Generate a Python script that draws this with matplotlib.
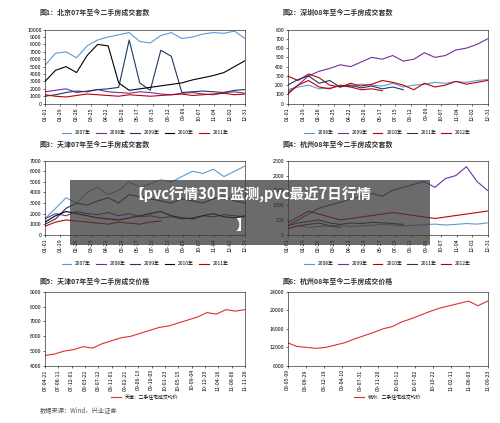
import matplotlib
matplotlib.use("Agg")
import matplotlib.pyplot as plt
plt.rcParams['font.family'] = ['Noto Sans CJK SC', 'DejaVu Sans']

titles = ["图1：北京07年至今二手房成交套数", "图2：深圳08年至今二手房成交套数",
          "图3：天津07年至今二手房成交套数", "图4：杭州08年至今二手房成交套数",
          "图5：天津07年至今二手房成交价格", "图6：杭州08年至今二手房成交价格"]
week_labels = ["01-01","01-29","02-26","03-25","04-22","05-20","06-17","07-15","08-12","09-09","10-07","11-04","12-02","12-31"]
colors = ["#5b9bd5", "#7030a0", "#1f3864", "#000000", "#c00000"]

bj_2007 = [5200,6800,7000,6200,7800,8600,9000,9300,9600,8400,8200,9200,9600,8800,9000,9400,9600,9500,9800,8800]
bj_2008 = [1600,1800,2000,1500,1700,1900,1600,1500,1400,1600,1500,1300,1200,1400,1500,1300,1200,1500,1600,1400]
bj_2009 = [1000,1200,1500,1700,1600,1900,2000,2200,8600,2800,1800,7200,6400,1500,1600,1700,1600,1500,1800,1900]
bj_2010 = [3000,4500,5000,4200,6500,8000,7800,2800,1800,2000,2200,2400,2600,2800,3200,3500,3800,4200,5000,5800]
bj_2011 = [1200,1000,900,1100,1300,1200,1100,1000,1200,1100,1000,1100,1200,1300,1100,1200,1300,1400,1200,1300]

sz_2008 = [150,180,200,160,170,190,180,210,200,190,220,180,200,210,230,220,240,230,250,260]
sz_2009 = [120,200,300,350,380,420,400,450,500,480,520,460,480,550,500,520,580,600,640,700]
sz_2010 = [300,250,320,280,200,180,220,190,210,250,230,200,150,220,180,200,240,210,230,250]
sz_2011 = [200,260,300,220,250,180,200,170,190,160,180,150]
sz_2012 = [100,200,250,180,160,200,180,150,160,140]

tj_2007 = [1500,2500,3500,3000,4000,4500,3800,4200,5000,4500,4800,5200,5000,5500,6000,5800,6200,5500,6000,6500]
tj_2008 = [1500,2000,1800,2200,2000,1900,2100,1800,2000,1700,1800,1600,1700,1500,1600,1800,1700,1900,1800,1700]
tj_2009 = [1000,1500,2500,3000,2800,3200,3500,3000,3800,3600,3400,3200,3000,3400,3200,3000,3400,3600,3200,3000]
tj_2010 = [1200,1800,2200,2000,1800,1600,1500,1400,1600,1800,2000,2200,1800,1600,1500,1800,2000,1700,1600,1800]
tj_2011 = [800,1200,1400,1300,1200,1100,1000,1200,1100,1000,1200,1300]

hz_2008 = [200,300,250,280,300,320,280,300,320,350,330,300,320,340,360,330,350,380,360,400]
hz_2009 = [300,500,700,900,1000,1100,1200,1300,1400,1300,1500,1600,1700,1800,1600,1900,2000,2300,1800,1500]
hz_2010 = [400,600,800,700,600,500,550,600,650,700,750,700,650,600,550,600,650,700,750,800]
hz_2011 = [300,400,450,500,400,350,400,380,420,400,380,350]
hz_2012 = [200,300,350,400,300,250]

tj_price = [4700,4800,5000,5100,5300,5200,5500,5700,5900,6000,6200,6400,6600,6700,6900,7100,7300,7600,7500,7800,7700,7800]
tj_price_ticks = ["07-04-21","07-08-11","07-12-01","08-03-22","08-07-12","08-11-01","09-02-21","09-06-13","09-10-03","10-01-23","10-05-15","10-09-04","10-12-25","11-04-16","11-08-06","11-11-26"]
hz_price = [13000,12200,12000,11800,12000,12500,13000,13800,14500,15200,16000,16500,17500,18200,19000,19800,20500,21000,21500,22000,21000,22000]
hz_price_ticks = ["08-05-09","08-08-29","08-12-19","09-04-10","09-07-31","09-11-20","10-03-12","10-07-02","10-10-22","11-02-11","11-06-03","11-09-23"]

fig = plt.figure(figsize=(5.0, 4.23), dpi=100)
fig.patch.set_facecolor("white")

lefts = [0.09, 0.575]
widths = 0.40
rows = [(0.755, 0.175), (0.445, 0.175), (0.135, 0.175)]
title_y = [0.97, 0.66, 0.335]

def style(ax):
    ax.tick_params(labelsize=3.8, length=1.5, width=0.4, pad=1)
    for s in ax.spines.values():
        s.set_linewidth(0.4)

def xt(ax, n, labels):
    pos = [i * (n - 1) / (len(labels) - 1) for i in range(len(labels))]
    ax.set_xticks(pos)
    ax.set_xticklabels(labels, rotation=90, fontsize=3.8)
    ax.set_xlim(0, n - 1)

def legend(ax, names, cols, y):
    handles = [plt.Line2D([], [], color=c, lw=0.8) for c in cols]
    ax.legend(handles, names, loc="upper center", bbox_to_anchor=(0.5, y), ncol=len(names),
              fontsize=3.5, frameon=False, handlelength=2, columnspacing=1)

axes = []
for r, (b, h) in enumerate(rows):
    for c in range(2):
        ax = fig.add_axes([lefts[c], b, widths, h])
        style(ax)
        fig.text(lefts[c] - 0.01, title_y[r], titles[r * 2 + c], fontsize=5, fontweight="bold",
                 color="#333333", va="center")
        axes.append(ax)

def vol(ax, series, names, cols, ylim, yt):
    for s, cl in zip(series, cols):
        ax.plot(range(len(s)), s, color=cl, lw=0.8)
    xt(ax, 20, week_labels)
    ax.set_ylim(*ylim)
    ax.set_yticks(yt)
    legend(ax, names, cols, -0.3)

vol(axes[0], [bj_2007, bj_2008, bj_2009, bj_2010, bj_2011], ["2007年","2008年","2009年","2010年","2011年"],
    colors, (0, 10000), range(0, 10001, 1000))
vol(axes[1], [sz_2008, sz_2009, sz_2010, sz_2011, sz_2012], ["2008年","2009年","2010年","2011年","2012年"],
    ["#5b9bd5", "#7030a0", "#c00000", "#1f3864", "#c00000"], (0, 800), range(0, 801, 100))
vol(axes[2], [tj_2007, tj_2008, tj_2009, tj_2010, tj_2011], ["2007年","2008年","2009年","2010年","2011年"],
    colors, (0, 7000), range(0, 7001, 1000))
vol(axes[3], [hz_2008, hz_2009, hz_2010, hz_2011, hz_2012], ["2008年","2009年","2010年","2011年","2012年"],
    ["#5b9bd5", "#7030a0", "#c00000", "#1f3864", "#c00000"], (0, 2500), range(0, 2501, 500))

ax = axes[4]
ax.plot(range(len(tj_price)), tj_price, color="#e03030", lw=0.8)
xt(ax, len(tj_price), tj_price_ticks)
ax.set_ylim(4000, 9000); ax.set_yticks(range(4000, 9001, 1000))
ax = axes[5]
ax.plot(range(len(hz_price)), hz_price, color="#e03030", lw=0.8)
xt(ax, len(hz_price), hz_price_ticks)
ax.set_ylim(8000, 24000); ax.set_yticks(range(8000, 24001, 4000))
for a, name in zip(axes[4:], ["天津：二手住宅成交均价", "杭州：二手住宅成交均价"]):
    a.legend([plt.Line2D([], [], color="#e03030", lw=0.8)], [name], loc="upper center",
             bbox_to_anchor=(0.5, -0.33), fontsize=3.5, frameon=False)

fig.text(0.08, 0.025, "数据来源：Wind，兴业证券", fontsize=4.5, color="#555555")

fig.patches.append(plt.Rectangle((0.14, 0.42), 0.72, 0.155, transform=fig.transFigure,
                                 facecolor="#3a3a3a", alpha=0.75, zorder=10))
fig.text(0.5, 0.54, "【pvc行情30日监测,pvc最近7日行情", fontsize=10.5, fontweight="bold",
         color="white", ha="center", va="center", zorder=11)
fig.text(0.485, 0.468, "】", fontsize=10.5, fontweight="bold", color="white",
         ha="center", va="center", zorder=11)

fig.savefig("out.png", dpi=100)
